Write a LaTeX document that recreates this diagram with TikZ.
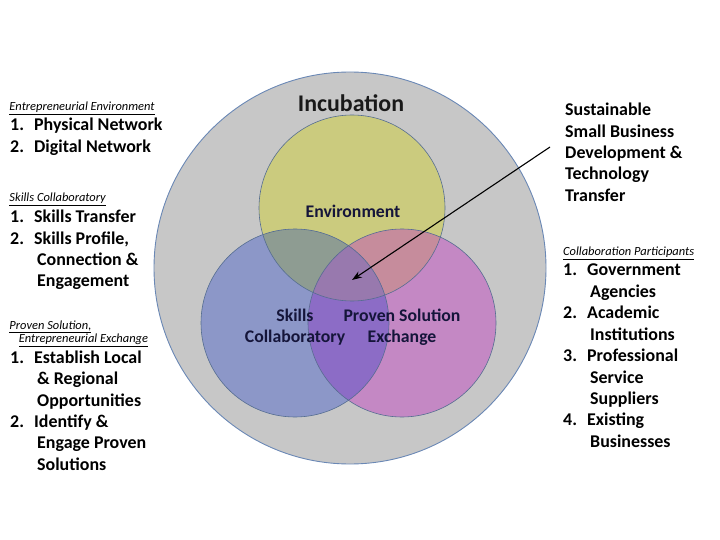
\documentclass[tikz,border=0pt]{standalone}
\usepackage{fontspec}
\setmainfont{Carlito}
\usepackage{xcolor}
\usetikzlibrary{arrows.meta,positioning}
\definecolor{IncGray}{HTML}{C7C7C7}
\definecolor{IncRing}{HTML}{6A88B5}
\definecolor{EnvYellow}{HTML}{CBCB7E}
\definecolor{SklBlue}{HTML}{8C97C8}
\definecolor{PrvPink}{HTML}{C488C4}
\definecolor{EnvSkl}{HTML}{8E9C92}
\definecolor{EnvPrv}{HTML}{C68C9C}
\definecolor{SklPrv}{HTML}{8C6CC6}
\definecolor{AllThree}{HTML}{9879AE}
\definecolor{VennInk}{HTML}{15153A}

\begin{document}
\begin{tikzpicture}[x=1bp,y=-1bp,
    listtext/.style={anchor=base west, inner sep=0pt, font=\fontsize{18}{21.5}\selectfont\bfseries},
    headtext/.style={anchor=base west, inner sep=0pt, font=\fontsize{12.5}{14}\selectfont\itshape},
    vennlabel/.style={inner sep=0pt, align=center, text=VennInk, font=\fontsize{17.8}{21}\selectfont\bfseries},
    ring/.style={draw=IncRing!80!black, line width=0.6bp}]
  \useasboundingbox (0,0) rectangle (720,540);

  % circle centres
  \coordinate (incc) at (350,268);
  \coordinate (envc) at (352,208);
  \coordinate (sklc) at (295,323);
  \coordinate (prvc) at (402,323);

  % outer incubation circle
  \draw[fill=IncGray, draw=IncRing, line width=0.9bp] (incc) circle (196);

  % the three sets
  \fill[EnvYellow] (envc) circle (93);
  \fill[SklBlue] (sklc) circle (94);
  \fill[PrvPink] (prvc) circle (94);
  \begin{scope}
    \clip (envc) circle (93);
    \fill[EnvSkl] (sklc) circle (94);
    \fill[EnvPrv] (prvc) circle (94);
  \end{scope}
  \begin{scope}
    \clip (sklc) circle (94);
    \fill[SklPrv] (prvc) circle (94);
  \end{scope}
  \begin{scope}
    \clip (envc) circle (93);
    \clip (sklc) circle (94);
    \fill[AllThree] (prvc) circle (94);
  \end{scope}
  \draw[ring] (envc) circle (93);
  \draw[ring] (sklc) circle (94);
  \draw[ring] (prvc) circle (94);

  % labels in the diagram
  \node[font=\fontsize{24}{28}\selectfont\bfseries, text=black!90] (incub) at (351,103) {Incubation};
  \node[vennlabel] (env) at (353,211) {Environment};
  \node[vennlabel] (skills) at (295,327) {Skills\\Collaboratory};
  \node[vennlabel] (proven) at (402,327) {Proven Solution\\Exchange};

  % left column
  \node[headtext] (envhead) at (9.3,111) {\underline{Entrepreneurial Environment}};
  \node[listtext] (envlist) at (10,130.7) {\begin{tabular}[t]{@{}p{24bp}@{}l@{}}
      1. & Physical Network\\
      2. & Digital Network
    \end{tabular}};
  \node[headtext] (sklhead) at (9.3,202) {\underline{Skills Collaboratory}};
  \node[listtext] (skllist) at (10,222.7) {\begin{tabular}[t]{@{}p{24bp}@{}l@{}}
      1. & Skills Transfer\\
      2. & Skills Profile,\\
         & \hspace{3bp}Connection \&\\
         & \hspace{3bp}Engagement
    \end{tabular}};
  \node[headtext] (prvhead) at (9.3,329) {\begin{tabular}[t]{@{}l@{}}
      \underline{Proven Solution,}\\
      \hspace{9.4bp}\underline{Entrepreneurial Exchange}
    \end{tabular}};
  \node[listtext] (prvlist) at (10,363.3) {\begin{tabular}[t]{@{}p{24bp}@{}l@{}}
      1. & Establish Local\\
         & \hspace{3bp}\& Regional\\
         & \hspace{3bp}Opportunities\\
      2. & Identify \&\\
         & \hspace{3bp}Engage Proven\\
         & \hspace{3bp}Solutions
    \end{tabular}};

  % right column
  \node[listtext] (sust) at (565,115.7) {\begin{tabular}[t]{@{}l@{}}
      Sustainable\\
      Small Business\\
      Development \&\\
      Technology\\
      Transfer
    \end{tabular}};
  \node[headtext] (parthead) at (563,255.7) {\underline{Collaboration Participants}};
  \node[listtext] (partlist) at (563,276) {\begin{tabular}[t]{@{}p{24bp}@{}l@{}}
      1. & Government\\
         & \hspace{3bp}Agencies\\
      2. & Academic\\
         & \hspace{3bp}Institutions\\
      3. & Professional\\
         & \hspace{3bp}Service\\
         & \hspace{3bp}Suppliers\\
      4. & Existing\\
         & \hspace{3bp}Businesses
    \end{tabular}};

  % pointer into the shared core
  \coordinate (tail) at (550,147);
  \coordinate (core) at (352,280);
  \draw[-{Stealth[length=10bp,width=7bp]}, line width=1.1bp] (tail) -- (core);
\end{tikzpicture}
\end{document}
